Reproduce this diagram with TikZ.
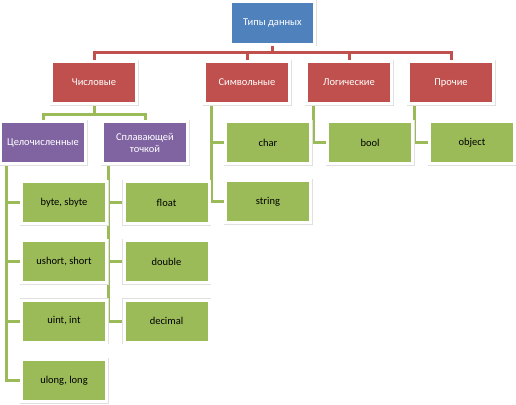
\documentclass[tikz,border=0pt]{standalone}
\usepackage{fontspec}
\setmainfont{Carlito}
\usepackage{tikz}
\usetikzlibrary{calc, backgrounds}
\definecolor{tblue}{HTML}{4F81BD}
\definecolor{tred}{HTML}{C0504D}
\definecolor{tviolet}{HTML}{8064A2}
\definecolor{tgreen}{HTML}{9BBB59}
\tikzset{
  box/.style={minimum width=85pt, minimum height=42pt, inner sep=1pt, align=center,
    draw=white, line width=3pt, preaction={draw=black!12, line width=4pt},
    font=\fontsize{10.5}{12}\selectfont},
  bluebox/.style={box, fill=tblue, text=white, minimum width=84pt, minimum height=43pt},
  redbox/.style={box, fill=tred, text=white},
  violetbox/.style={box, fill=tviolet, text=white},
  greenbox/.style={box, fill=tgreen, text=black},
  redline/.style={draw=tred, line width=3pt},
  greenline/.style={draw=tgreen, line width=3pt},
}
\begin{document}
\begin{tikzpicture}[x=1pt,y=-1pt]
        \useasboundingbox (0,0) rectangle (516,404);
        \node[bluebox] (root) at (272.5,23) {Типы данных};
        \node[redbox] (num) at (94,82.5) {Числовые};
        \node[redbox] (sym) at (247,82.5) {Символьные};
        \node[redbox] (log) at (349,82.5) {Логические};
        \node[redbox] (oth) at (451,82.5) {Прочие};
        \node[violetbox] (int) at (43,142.5) {Целочисленные};
        \node[violetbox] (frac) at (145,142.5) {Сплавающей\\точкой};
        \node[greenbox] (b1) at (64,202.5) {byte, sbyte};
        \node[greenbox] (b2) at (64,261.5) {ushort, short};
        \node[greenbox] (b3) at (64,321) {uint, int};
        \node[greenbox] (b4) at (64,380.5) {ulong, long};
        \node[greenbox] (f1) at (166.5,202.5) {float};
        \node[greenbox] (f2) at (166.5,261.5) {double};
        \node[greenbox] (f3) at (166.5,321) {decimal};
        \node[greenbox] (c1) at (268,142.5) {char};
        \node[greenbox] (c2) at (268,201.5) {string};
        \node[greenbox] (bo) at (370,142.5) {bool};
        \node[greenbox] (ob) at (472,142.5) {object};
        \begin{scope}[on background layer]
        \foreach \n in {num,sym,log,oth}
          \draw[redline] (root.south) -- ++(0,6.5) -| (\n.north);
        \foreach \n in {int,frac}
          \draw[greenline] (num.south) -- ++(0,9) -| (\n.north);
        \foreach \n in {b1,b2,b3,b4}
          \draw[greenline] ($(int.south west)+(7,0)$) |- (\n.west);
        \foreach \n in {f1,f2,f3}
          \draw[greenline] ($(frac.south west)+(7.5,0)$) |- (\n.west);
        \foreach \n in {c1,c2}
          \draw[greenline] ($(sym.south west)+(8,0)$) |- (\n.west);
        \draw[greenline] ($(log.south west)+(8,0)$) |- (bo.west);
        \draw[greenline] ($(oth.south west)+(7,0)$) |- (ob.west);
        \end{scope}
\end{tikzpicture}
\end{document}
